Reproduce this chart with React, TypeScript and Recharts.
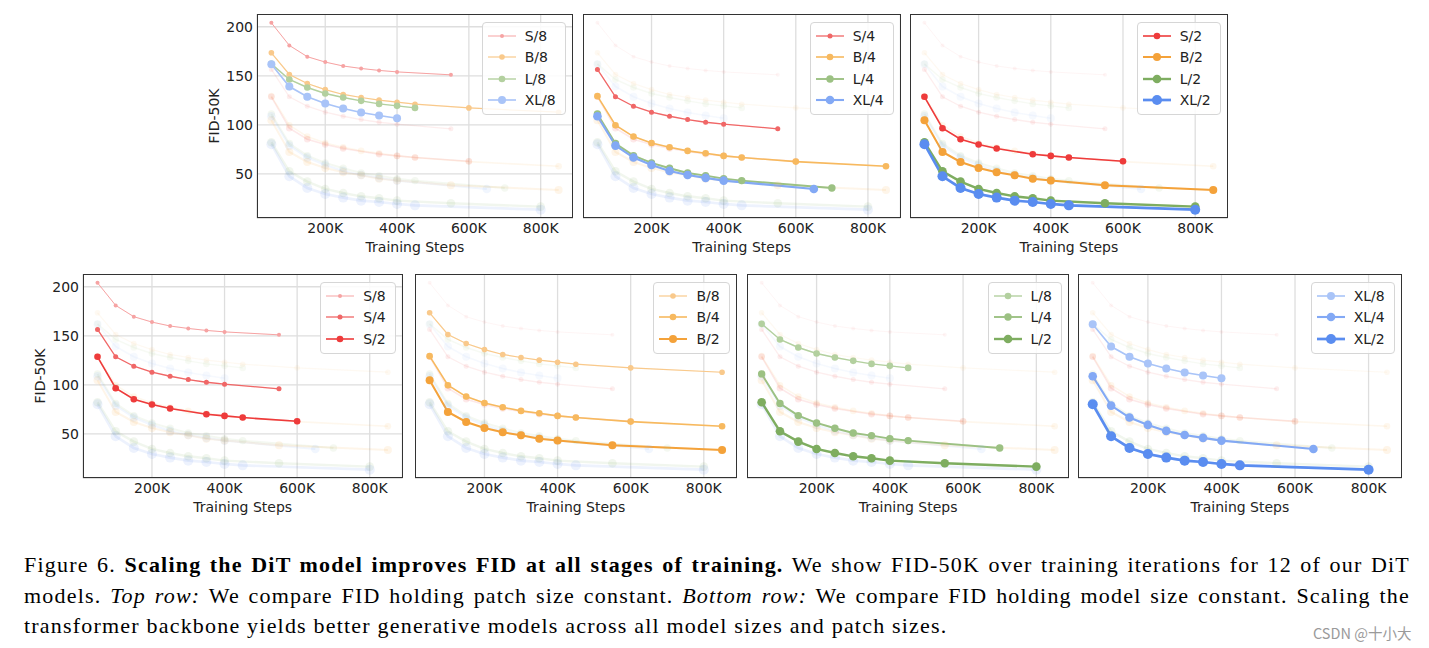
import { LineChart, Line, XAxis, YAxis, CartesianGrid } from "recharts";

// training steps (in K) and FID-50K for every model
const STEPS_S8 = [50, 100, 150, 200, 250, 300, 350, 400, 550];
const FID_S8 = [204, 181, 169.5, 164, 160, 157.5, 155.5, 154, 151];
const STEPS_B8 = [50, 100, 150, 200, 250, 300, 350, 400, 450, 600, 850];
const FID_B8 = [173.5, 151.4, 142.2, 136, 131, 127.9, 125.2, 123.1, 121.1, 117.3, 112.9];
const STEPS_L8 = [50, 100, 150, 200, 250, 300, 350, 400, 450];
const FID_L8 = [162.2, 146.3, 138.1, 132, 127.9, 124.5, 121.4, 119.4, 117.3];
const STEPS_XL8 = [50, 100, 150, 200, 250, 300, 350, 400];
const FID_XL8 = [161.9, 139.1, 128.6, 121.8, 116.7, 112.6, 109.5, 106.8];

const STEPS_S4 = [50, 100, 150, 200, 250, 300, 350, 400, 550];
const FID_S4 = [156.5, 128.6, 119, 113, 108.8, 105.4, 102.7, 100.7, 96];
const STEPS_B4 = [50, 100, 150, 200, 250, 300, 350, 400, 450, 600, 850];
const FID_B4 = [129.3, 99.7, 88.1, 81.6, 77.2, 73.5, 71.1, 68.4, 66.7, 62.6, 57.8];
const STEPS_L4 = [50, 100, 150, 200, 250, 300, 350, 400, 450, 700];
const FID_L4 = [111.2, 81, 68.7, 61.2, 55.8, 51, 48.3, 45.2, 43.2, 35.7];
const STEPS_XL4 = [50, 100, 150, 200, 250, 300, 350, 400, 650];
const FID_XL4 = [108.8, 78.9, 66.7, 59.2, 53.1, 49, 46, 43.2, 34.7];

const STEPS_S2 = [50, 100, 150, 200, 250, 350, 400, 450, 600];
const FID_S2 = [128.6, 96.6, 85.4, 80, 75.9, 70, 68.4, 66.7, 62.9];
const STEPS_B2 = [50, 100, 150, 200, 250, 300, 350, 400, 550, 850];
const FID_B2 = [104.8, 72.4, 62.2, 56.1, 51.7, 48.6, 45.2, 43.2, 38.4, 33.7];
const STEPS_L2 = [50, 100, 150, 200, 250, 300, 350, 400, 550, 800];
const FID_L2 = [82.3, 52.7, 42.2, 34.7, 30.6, 27.2, 25.2, 22.8, 20.1, 16.7];
const STEPS_XL2 = [50, 100, 150, 200, 250, 300, 350, 400, 450, 800];
const FID_XL2 = [80.3, 47.6, 35.7, 29.6, 25.9, 22.8, 21.4, 19.4, 18, 13.6];

const X_TICKS = [200, 400, 600, 800];
const Y_TICKS = [50, 100, 150, 200];

type Series = { name: string; steps: number[]; fid: number[]; color: string; r: number; lw: number };

const SERIES: Series[] = [
  { name: "S/8", steps: STEPS_S8, fid: FID_S8, color: "#f6a3a3", r: 2, lw: 1 },
  { name: "B/8", steps: STEPS_B8, fid: FID_B8, color: "#f9c98b", r: 2.8, lw: 1.2 },
  { name: "L/8", steps: STEPS_L8, fid: FID_L8, color: "#b3d09f", r: 3.3, lw: 1.4 },
  { name: "XL/8", steps: STEPS_XL8, fid: FID_XL8, color: "#a9c4f8", r: 4, lw: 1.6 },
  { name: "S/4", steps: STEPS_S4, fid: FID_S4, color: "#f06767", r: 2.5, lw: 1.3 },
  { name: "B/4", steps: STEPS_B4, fid: FID_B4, color: "#f7b95f", r: 3.3, lw: 1.6 },
  { name: "L/4", steps: STEPS_L4, fid: FID_L4, color: "#9cc183", r: 3.7, lw: 1.9 },
  { name: "XL/4", steps: STEPS_XL4, fid: FID_XL4, color: "#83a9f5", r: 4.3, lw: 2.1 },
  { name: "S/2", steps: STEPS_S2, fid: FID_S2, color: "#ee3b3b", r: 3.3, lw: 1.6 },
  { name: "B/2", steps: STEPS_B2, fid: FID_B2, color: "#f4a23a", r: 4, lw: 2 },
  { name: "L/2", steps: STEPS_L2, fid: FID_L2, color: "#7ead60", r: 4.3, lw: 2.4 },
  { name: "XL/2", steps: STEPS_XL2, fid: FID_XL2, color: "#5a8df0", r: 5, lw: 2.7 },
];

const PANELS = [
  { x0: 256.7, y0: 14, w: 316, show: ["S/8", "B/8", "L/8", "XL/8"], yTicks: true },
  { x0: 583.3, y0: 14, w: 317.4, show: ["S/4", "B/4", "L/4", "XL/4"], yTicks: false },
  { x0: 910, y0: 14, w: 317.7, show: ["S/2", "B/2", "L/2", "XL/2"], yTicks: false },
  { x0: 83.3, y0: 274, w: 319.4, show: ["S/8", "S/4", "S/2"], yTicks: true },
  { x0: 415, y0: 274, w: 321.7, show: ["B/8", "B/4", "B/2"], yTicks: false },
  { x0: 746.7, y0: 274, w: 322.3, show: ["L/8", "L/4", "L/2"], yTicks: false },
  { x0: 1078, y0: 274, w: 323.7, show: ["XL/8", "XL/4", "XL/2"], yTicks: false },
];

const PLOT_H = 204.3;
const FONT = "'DejaVu Sans', sans-serif";
const TXT = "#222";

const pts = (s: Series) => s.steps.map((x, i) => ({ x, y: s.fid[i] }));
const byName = (n: string) => SERIES.find((s) => s.name === n)!;

function Legend({ items }: { items: Series[] }) {
  return (
    <div
      style={{
        position: "absolute",
        right: 6,
        top: 7,
        background: "rgba(255,255,255,0.85)",
        border: "1px solid #d6d6d6",
        borderRadius: 4,
        padding: "2px 9px 3px 5px",
        fontFamily: FONT,
        fontSize: 14,
        color: TXT,
      }}
    >
      {items.map((s) => (
        <div key={s.name} style={{ display: "flex", alignItems: "center", height: 21.5 }}>
          <svg width={28} height={14} style={{ marginRight: 9 }}>
            <line x1={0} y1={7} x2={28} y2={7} stroke={s.color} strokeWidth={s.lw} />
            <circle cx={14} cy={7} r={s.r} fill={s.color} />
          </svg>
          <span>{s.name}</span>
        </div>
      ))}
    </div>
  );
}

function Panel({ p }: { p: (typeof PANELS)[number] }) {
  const yw = p.yTicks ? 60 : 0;
  const shown = p.show.map(byName);
  return (
    <div style={{ position: "absolute", left: p.x0 - yw, top: p.y0 }}>
      <LineChart width={p.w + yw} height={PLOT_H + 44} margin={{ top: 0, right: 0, bottom: 8, left: 0 }}>
        <CartesianGrid stroke="#dedede" strokeWidth={1.3} />
        <XAxis
          type="number"
          dataKey="x"
          domain={[10, 890]}
          ticks={X_TICKS}
          allowDataOverflow
          tickFormatter={(v) => `${v}K`}
          axisLine={false}
          tickLine={false}
          tickSize={0}
          tickMargin={5}
          height={36}
          tick={{ fontSize: 14, fill: TXT, fontFamily: FONT }}
          label={{ value: "Training Steps", position: "insideBottom", offset: 2, fontSize: 14, fill: TXT, fontFamily: FONT }}
        />
        <YAxis
          type="number"
          domain={[4.8, 213]}
          ticks={Y_TICKS}
          allowDataOverflow
          width={yw}
          axisLine={false}
          tickLine={false}
          tickSize={0}
          tickMargin={4}
          tick={p.yTicks ? { fontSize: 14, fill: TXT, fontFamily: FONT } : false}
        />
        {SERIES.map((s) => (
          <Line
            key={"bg" + s.name}
            name={"bg" + s.name}
            data={pts(s)}
            dataKey="y"
            stroke={s.color}
            strokeOpacity={0.11}
            strokeWidth={s.lw}
            dot={{ r: s.r, fill: s.color, fillOpacity: 0.11, stroke: "none" }}
            activeDot={false}
            isAnimationActive={false}
          />
        ))}
        {shown.map((s) => (
          <Line
            key={s.name}
            name={s.name}
            data={pts(s)}
            dataKey="y"
            stroke={s.color}
            strokeWidth={s.lw}
            dot={{ r: s.r, fill: s.color, stroke: "none" }}
            activeDot={false}
            isAnimationActive={false}
          />
        ))}
      </LineChart>
      <div
        style={{
          position: "absolute",
          left: yw,
          top: 0,
          width: p.w,
          height: PLOT_H,
          border: "1.3px solid #333",
          boxSizing: "border-box",
          pointerEvents: "none",
        }}
      >
        <Legend items={shown} />
      </div>
      {p.yTicks && (
        <div
          style={{
            position: "absolute",
            left: yw - 43,
            top: PLOT_H / 2,
            transform: "translate(-50%, -50%) rotate(-90deg)",
            whiteSpace: "nowrap",
            fontFamily: FONT,
            fontSize: 14,
            color: TXT,
          }}
        >
          FID-50K
        </div>
      )}
    </div>
  );
}

const lineStyle = {
  whiteSpace: "nowrap" as const,
  textAlign: "justify" as const,
  textAlignLast: "justify" as const,
  height: 30.5,
};

export default function App() {
  return (
    <div style={{ position: "absolute", left: 0, top: 0, width: 1429, height: 648, background: "#fff", overflow: "hidden" }}>
      {PANELS.map((p, i) => (
        <Panel key={i} p={p} />
      ))}
      <div
        style={{
          position: "absolute",
          left: 24,
          top: 550,
          width: 1386,
          fontFamily: "'Liberation Serif', 'Times New Roman', serif",
          fontSize: 22,
          letterSpacing: "1.2px",
          lineHeight: "30.5px",
          color: "#000",
        }}
      >
        <div style={lineStyle}>
          Figure 6. <b>Scaling the DiT model improves FID at all stages of training.</b> We show FID-50K over training
          iterations for 12 of our DiT
        </div>
        <div style={lineStyle}>
          models. <i>Top row:</i> We compare FID holding patch size constant. <i>Bottom row:</i> We compare FID holding
          model size constant. Scaling the
        </div>
        <div style={{ whiteSpace: "nowrap", height: 30.5 }}>
          transformer backbone yields better generative models across all model sizes and patch sizes.
        </div>
      </div>
      <div
        style={{
          position: "absolute",
          left: 1313,
          top: 622,
          fontFamily: "'Noto Sans CJK SC', 'Noto Sans', sans-serif",
          fontSize: 14.5,
          color: "#9a9a9a",
          whiteSpace: "nowrap",
        }}
      >
        CSDN @十小大
      </div>
    </div>
  );
}
